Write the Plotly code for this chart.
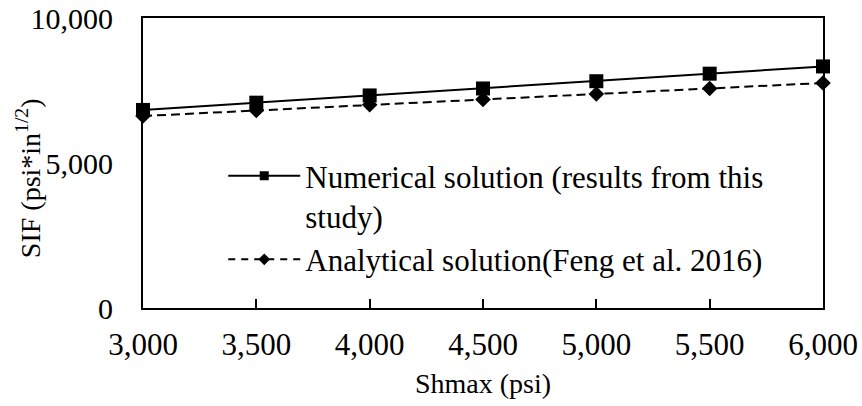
import plotly.graph_objects as go

# Maximum horizontal stress values (psi)
shmax = [3000, 3500, 4000, 4500, 5000, 5500, 6000]
# Stress intensity factor, psi*in^1/2
sif_numerical = [6830, 7080, 7330, 7570, 7820, 8080, 8330]
sif_analytical = [6620, 6810, 7010, 7190, 7380, 7570, 7760]

x_ticks = [3000, 3500, 4000, 4500, 5000, 5500, 6000]
y_ticks = [0, 5000, 10000]

name_num = "Numerical solution (results from this<br>study)"
name_ana = "Analytical solution(Feng et al. 2016)"
x_title = "Shmax (psi)"
y_title = "SIF (psi*in<sup>1/2</sup>)"

FONT = "Liberation Serif, Times New Roman, serif"

fig = go.Figure()

# Data traces
fig.add_trace(go.Scatter(
    x=shmax, y=sif_numerical, mode="lines+markers", showlegend=False,
    line=dict(color="black", width=2),
    marker=dict(symbol="square", size=14, color="black"),
    cliponaxis=False,
))
fig.add_trace(go.Scatter(
    x=shmax, y=sif_analytical, mode="lines+markers", showlegend=False,
    line=dict(color="black", width=2, dash="9px,5px"),
    marker=dict(symbol="diamond", size=12, color="black"),
    cliponaxis=False,
))

# Legend entries with smaller sample markers
fig.add_trace(go.Scatter(
    x=[None], y=[None], mode="lines+markers", name=name_num,
    line=dict(color="black", width=2),
    marker=dict(symbol="square", size=9, color="black"),
))
fig.add_trace(go.Scatter(
    x=[None], y=[None], mode="lines+markers", name=name_ana,
    line=dict(color="black", width=2, dash="7px,6px"),
    marker=dict(symbol="diamond", size=9, color="black"),
))

fig.update_layout(
    width=862, height=406,
    margin=dict(l=143, r=39, t=18, b=98, autoexpand=False),
    paper_bgcolor="white", plot_bgcolor="white",
    font=dict(family=FONT, color="black", size=30),
    showlegend=True,
    legend=dict(
        x=0.118, y=0.548, xanchor="left", yanchor="top",
        bgcolor="rgba(0,0,0,0)", valign="top",
        font=dict(family=FONT, size=31, color="black"),
        itemwidth=72, tracegroupgap=0,
    ),
    xaxis=dict(
        range=[3000, 6000], tickvals=x_ticks,
        ticktext=[f"{v:,}" for v in x_ticks],
        showgrid=False, zeroline=False, automargin=False,
        showline=True, linecolor="black", linewidth=2, mirror=True,
        ticks="inside", ticklen=9, tickwidth=1.5, tickcolor="black",
        ticklabelstandoff=8,
        tickfont=dict(family=FONT, size=31, color="black"),
    ),
    yaxis=dict(
        range=[0, 10000], tickvals=y_ticks,
        ticktext=[f"{v:,}" for v in y_ticks],
        showgrid=False, zeroline=False, automargin=False,
        showline=True, linecolor="black", linewidth=2, mirror=True,
        ticks="", ticklabelstandoff=22,
        tickfont=dict(family=FONT, size=30, color="black"),
    ),
    annotations=[
        dict(text=x_title, xref="paper", yref="paper", x=0.5, y=-0.262,
             xanchor="center", yanchor="middle", showarrow=False,
             font=dict(family=FONT, size=28, color="black")),
        dict(text=y_title, xref="paper", yref="paper", x=-0.169, y=0.448,
             xanchor="center", yanchor="middle", showarrow=False, textangle=-90,
             font=dict(family=FONT, size=28, color="black")),
    ],
)

fig.write_html("out.html")
